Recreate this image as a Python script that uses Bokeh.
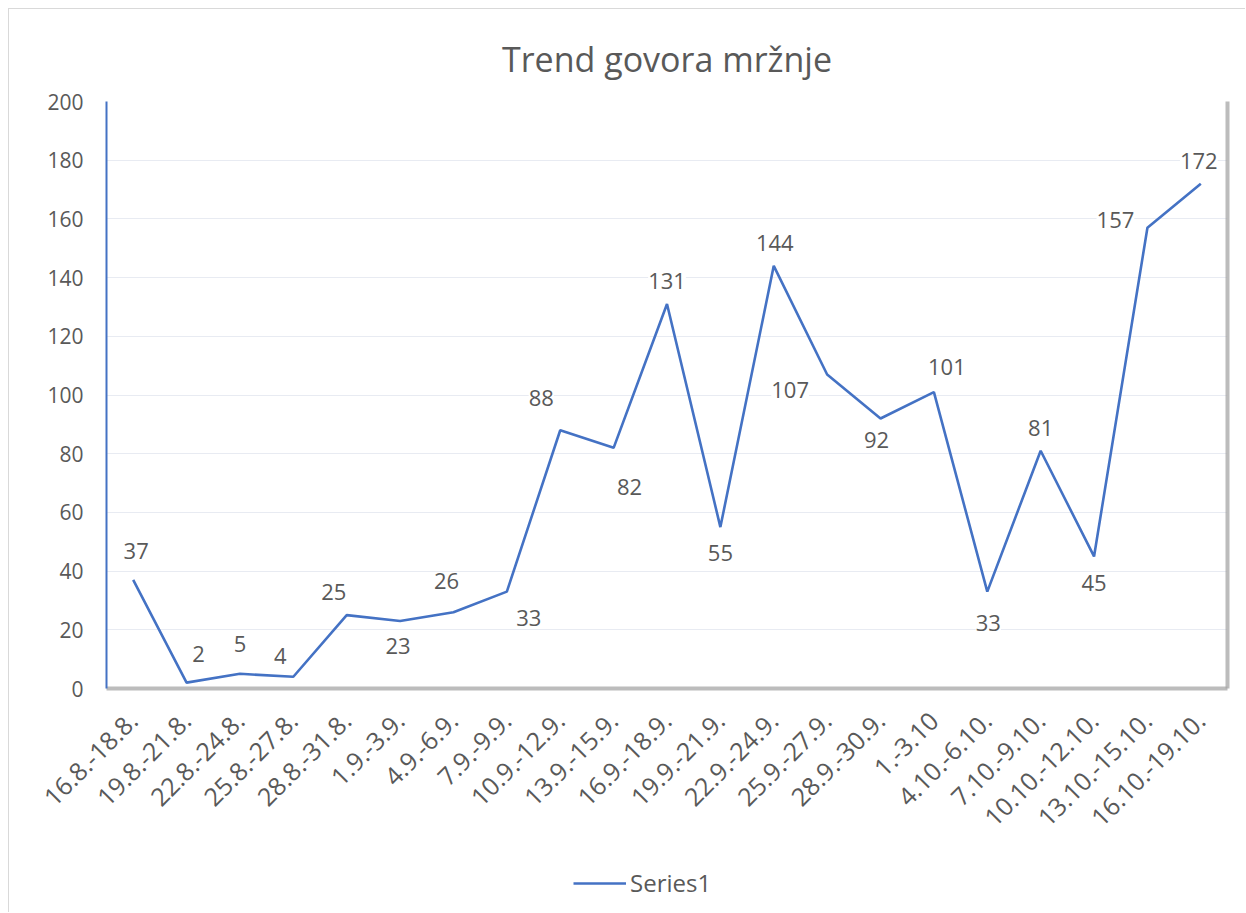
from bokeh.plotting import figure
from bokeh.models import (ColumnDataSource, LabelSet, Legend, LegendItem, FixedTicker,
                          Range1d, FactorRange, Title, LinearAxis)
from bokeh.layouts import column
from bokeh.embed import file_html
from bokeh.resources import INLINE
from bokeh.core.properties import value
import math

# ---- data ----
categories = ["16.8.-18.8.", "19.8.-21.8.", "22.8.-24.8.", "25.8.-27.8.", "28.8.-31.8.",
              "1.9.-3.9.", "4.9.-6.9.", "7.9.-9.9.", "10.9.-12.9.", "13.9.-15.9.",
              "16.9.-18.9.", "19.9.-21.9.", "22.9.-24.9.", "25.9.-27.9.", "28.9.-30.9.",
              "1.-3.10", "4.10.-6.10.", "7.10.-9.10.", "10.10.-12.10.", "13.10.-15.10.",
              "16.10.-19.10."]
series1 = [37, 2, 5, 4, 25, 23, 26, 33, 88, 82, 131, 55, 144, 107, 92, 101, 33, 81, 45, 157, 172]
y_ticks = [0, 20, 40, 60, 80, 100, 120, 140, 160, 180, 200]
series_name = "Series1"

# label placement (style, pixels)
lab_dx = [3, 12, 0, -13, -13, -2, -7, 22, -19, 16, 0, 0, 1, -37, -4, 13, 1, 0, 0, -32, -2]
lab_dy = [29, 29, 30, 21, 23, -25, 31, -26, 32, -39, 23, -26, 23, -16, -22, 25, -31, 23, -27, 8, 23]

FONT = "Open Sans"
TXT = "#595959"
BLUE = "#4472C4"
SHADOW = "#a6a6a6"
W = 1236

src = ColumnDataSource(dict(x=categories, y=series1, t=[str(v) for v in series1],
                            dx=lab_dx, dy=lab_dy))

p = figure(width=W, height=855, x_range=FactorRange(*categories), y_range=Range1d(0, 200),
           output_backend="svg", toolbar_location=None,
           min_border_left=97, min_border_right=18, min_border_top=92, min_border_bottom=176)
p.outline_line_color = None
p.x_range.range_padding = 0
p.x_range.factor_padding = 0

t = Title(text="Trend govora mržnje", align="center", text_font=FONT, text_font_size="34px",
          text_font_style="normal", text_color=TXT, standoff=40)
p.add_layout(t, "above")

r = p.line("x", "y", source=src, line_color=BLUE, line_width=2.6)

labels = LabelSet(x="x", y="y", text="t", source=src, x_offset="dx", y_offset="dy",
                  text_align="center", text_baseline="middle", text_font=value(FONT),
                  text_font_size="22px", text_color=TXT,
                  background_fill_color="white", background_fill_alpha=1.0)
p.add_layout(labels)

# grid / axes
p.xgrid.grid_line_color = None
p.ygrid.grid_line_color = "#e8ebf2"
p.ygrid.grid_line_width = 1
p.yaxis.ticker = FixedTicker(ticks=y_ticks)
p.yaxis.axis_line_color = BLUE
p.yaxis.axis_line_width = 2
p.yaxis.major_tick_line_color = None
p.yaxis.minor_tick_line_color = None
p.yaxis.major_label_standoff = 17
p.yaxis.major_label_text_font = FONT
p.yaxis.major_label_text_font_size = "21px"
p.yaxis.major_label_text_color = TXT

p.xaxis.axis_line_color = SHADOW
p.xaxis.axis_line_width = 4
p.xaxis.axis_line_alpha = 0.75
p.xaxis.major_tick_line_color = None
p.xaxis.minor_tick_line_color = None
p.xaxis.major_label_orientation = math.pi / 4
p.xaxis.major_label_standoff = 22
p.xaxis.major_label_text_font = FONT
p.xaxis.major_label_text_font_size = "25px"
p.xaxis.major_label_text_color = TXT

# right-hand edge of the plot area (shadow-like line, no labels)
ra = LinearAxis(axis_line_color=SHADOW, axis_line_width=4, axis_line_alpha=0.75,
                major_tick_line_color=None, minor_tick_line_color=None,
                major_label_text_font_size="0px", ticker=FixedTicker(ticks=[]))
p.add_layout(ra, "right")

# legend strip below the chart
p2 = figure(width=W, height=48, output_backend="svg", toolbar_location=None,
            x_range=FactorRange(*categories), y_range=Range1d(1000, 1001),
            min_border_left=0, min_border_right=0, min_border_top=0, min_border_bottom=0)
p2.axis.visible = False
p2.grid.visible = False
p2.outline_line_color = None
r2 = p2.line("x", "y", source=src, line_color=BLUE, line_width=2.6)
legend = Legend(items=[LegendItem(label=series_name, renderers=[r2])], orientation="horizontal",
                location=(467, 13), border_line_color=None, background_fill_alpha=0,
                label_text_font=FONT, label_text_font_size="24px", label_text_color=TXT,
                glyph_width=53, label_standoff=4, margin=0, padding=0)
p2.add_layout(legend, "center")

lay = column(p, p2, spacing=0)
lay.styles = {"margin-left": "8px", "margin-top": "8px",
              "border-left": "1px solid #d9d9d9", "border-top": "1px solid #d9d9d9"}

open("out.html", "w").write(file_html(lay, INLINE))
